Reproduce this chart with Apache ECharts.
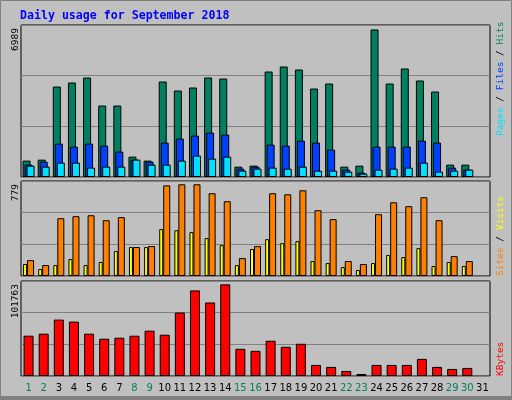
<!DOCTYPE html>
<html><head><meta charset="utf-8">
<script src="https://cdn.jsdelivr.net/npm/echarts@6/dist/echarts.min.js"></script>
<style>html,body{margin:0;padding:0;background:#c0c0c0}#c{width:512px;height:400px}</style>
</head><body><div id="c"></div>
<script>
const days = ['1','2','3','4','5','6','7','8','9','10','11','12','13','14','15','16','17','18','19','20','21','22','23','24','25','26','27','28','29','30','31'];
const weekend = ['1','2','8','9','15','16','22','23','29','30'];
const hits = [775,822,4285,4475,4712,3384,3384,964,775,4522,4095,4238,4712,4664,490,538,4996,5234,5091,4190,4427,490,538,6989,4427,5139,4570,4048,585,585,null];
const files = [585,727,1581,1439,1581,1486,1202,822,727,1628,1818,1960,2103,2008,395,490,1534,1486,1723,1628,1297,348,206,1439,1439,1439,1723,1628,443,348,null];
const pages = [538,490,680,680,443,490,490,822,585,585,775,1012,870,964,300,395,443,395,490,300,300,253,158,348,395,443,680,253,300,348,null];
const visits = [135,93,491,508,516,474,500,246,254,770,779,779,703,635,152,254,703,694,728,559,483,127,102,525,626,593,669,474,169,127,null];
const sites = [102,59,93,144,93,119,212,246,246,398,389,373,322,262,93,229,313,279,296,127,110,76,51,110,178,161,237,85,119,85,null];
const kbytes = [44736,46973,62630,60394,46973,41381,42499,44736,50328,45854,70459,95064,81643,101763,30197,27960,39144,32434,35789,12302,10066,5592,2237,12302,12302,12302,19013,10066,7829,8947,null];
const maxLabels = ['6989','779','101763'];

const mono = 'DejaVu Sans Mono';
const bs = {borderColor:'#000',borderWidth:1};
function grid(top,h){return {left:21,right:22,top:top,height:h,show:true,backgroundColor:'#c0c0c0',borderColor:'#000',borderWidth:1};}
function xa(i,showLabel){return {type:'category',gridIndex:i,data:days,axisLine:{show:false},axisTick:{show:false},
  axisLabel:{show:showLabel,interval:0,margin:7,fontFamily:'DejaVu Sans',fontSize:10,
    color:(v)=>weekend.includes(v)?'#008060':'#000'}};}
function ya(i,max){return {type:'value',gridIndex:i,min:0,max:max,interval:max/3,axisLabel:{show:false},axisLine:{show:false},axisTick:{show:false},
  splitLine:{lineStyle:{color:'#808080',width:1}}};}
function vtext(x,y,parts){
  let rich={},txt='';
  parts.forEach((p,k)=>{rich['r'+k]={fill:p[1],fontFamily:mono,fontSize:9.5};txt+='{r'+k+'|'+p[0]+'}';});
  return {type:'text',x:x,y:y,rotation:Math.PI/2,style:{text:txt,rich:rich,fontFamily:mono,fontSize:9.5,align:'left',verticalAlign:'middle'}};
}
const chart = echarts.init(document.getElementById('c'));
chart.setOption({
  animation:false,
  backgroundColor:'#c0c0c0',
  grid:[grid(25,152),grid(181,95),grid(281,95)],
  xAxis:[xa(0,false),xa(1,false),xa(2,true)],
  yAxis:[ya(0,7200),ya(1,807),ya(2,105500)],
  graphic:[
    {type:'rect',shape:{x:0.5,y:0.5,width:511,height:399},style:{fill:'none',stroke:'#808080',lineWidth:1}},
    {type:'rect',shape:{x:0,y:396,width:512,height:4},style:{fill:'#808080'}},
    {type:'text',x:20,y:16,style:{text:'Daily usage for September 2018',fill:'#0000ff',fontFamily:mono,fontWeight:'bold',fontSize:11.6,verticalAlign:'middle'}},
    {type:'text',x:16,y:28,rotation:Math.PI/2,style:{text:maxLabels[0],fill:'#000',fontFamily:mono,fontSize:9.5,align:'right',verticalAlign:'middle'}},
    {type:'text',x:16,y:184,rotation:Math.PI/2,style:{text:maxLabels[1],fill:'#000',fontFamily:mono,fontSize:9.5,align:'right',verticalAlign:'middle'}},
    {type:'text',x:16,y:284,rotation:Math.PI/2,style:{text:maxLabels[2],fill:'#000',fontFamily:mono,fontSize:9.5,align:'right',verticalAlign:'middle'}},
    vtext(501,136,[['Pages','#00e0ff'],[' / ','#000'],['Files','#0040ff'],[' / ','#000'],['Hits','#008060']]),
    vtext(501,276,[['Sites','#ff8000'],[' / ','#000'],['Visits','#ffff00']]),
    vtext(501,376,[['KBytes','#ff0000']])
  ],
  series:[
    {type:'bar',xAxisIndex:0,yAxisIndex:0,data:hits,barWidth:8,barGap:'-75%',itemStyle:Object.assign({color:'#008060'},bs)},
    {type:'bar',xAxisIndex:0,yAxisIndex:0,data:files,barWidth:8,barGap:'-75%',itemStyle:Object.assign({color:'#0040ff'},bs)},
    {type:'bar',xAxisIndex:0,yAxisIndex:0,data:pages,barWidth:8,barGap:'-75%',itemStyle:Object.assign({color:'#00e0ff'},bs)},
    {type:'bar',xAxisIndex:1,yAxisIndex:1,data:sites,barWidth:4,barGap:'0%',itemStyle:Object.assign({color:'#ffff00'},bs)},
    {type:'bar',xAxisIndex:1,yAxisIndex:1,data:visits,barWidth:7,barGap:'0%',itemStyle:Object.assign({color:'#ff8000'},bs)},
    {type:'bar',xAxisIndex:2,yAxisIndex:2,data:kbytes,barWidth:10,itemStyle:Object.assign({color:'#ff0000'},bs)}
  ]
});
</script></body></html>
